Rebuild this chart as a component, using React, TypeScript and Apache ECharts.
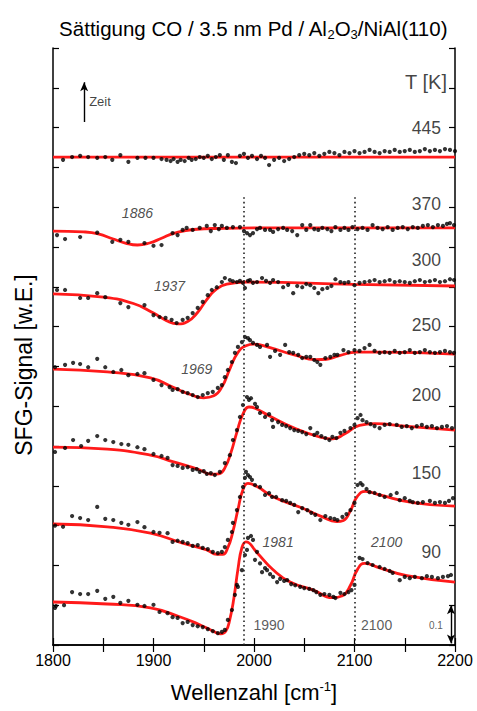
import React, { useEffect, useRef } from 'react';
import * as echarts from 'echarts';

type Pt = [number, number];

const FONT = '"Liberation Sans", Arial, Helvetica, sans-serif';

// temperature of each spectrum, top to bottom, and where its label sits
const temperatures = ['445', '370', '300', '250', '200', '150', '90'];
const tempLabelY = [1.299, 1.108, 0.967, 0.804, 0.628, 0.432, 0.234];
const tempLabelX = 2186;
const unitLabel = 'T [K]';
const unitLabelPos: Pt[] = [[2192, 1.415]];

// fitted line shapes (red)
const fit445: Pt[] = [[1800, 1.226], [2000, 1.226], [2200, 1.226]];
const fit370: Pt[] = [[1800, 1.040], [1830, 1.038], [1845, 1.033], [1860, 1.020], [1872, 1.010], [1884, 1.005], [1896, 1.010], [1908, 1.022], [1920, 1.034], [1940, 1.044], [1970, 1.047], [2000, 1.048], [2100, 1.048], [2200, 1.048]];
const fit300: Pt[] = [[1800, 0.882], [1850, 0.874], [1880, 0.858], [1900, 0.834], [1913, 0.815], [1924, 0.807], [1934, 0.813], [1944, 0.836], [1953, 0.868], [1962, 0.893], [1973, 0.907], [1993, 0.912], [2100, 0.906], [2200, 0.902]];
const fit250: Pt[] = [[1800, 0.693], [1854, 0.686], [1897, 0.671], [1919, 0.648], [1936, 0.630], [1950, 0.621], [1960, 0.626], [1968, 0.648], [1976, 0.694], [1984, 0.735], [1992, 0.752], [2000, 0.756], [2016, 0.747], [2040, 0.729], [2062, 0.717], [2072, 0.718], [2085, 0.727], [2102, 0.736], [2125, 0.736], [2200, 0.731]];
const fit200: Pt[] = [[1800, 0.497], [1854, 0.492], [1897, 0.477], [1920, 0.460], [1945, 0.441], [1958, 0.429], [1965, 0.430], [1971, 0.445], [1977, 0.483], [1983, 0.535], [1989, 0.580], [1995, 0.598], [2001, 0.595], [2015, 0.576], [2040, 0.545], [2066, 0.522], [2078, 0.518], [2090, 0.530], [2105, 0.552], [2120, 0.556], [2150, 0.550], [2200, 0.540]];
const fit150: Pt[] = [[1800, 0.304], [1854, 0.297], [1897, 0.281], [1929, 0.256], [1953, 0.239], [1963, 0.228], [1969, 0.228], [1974, 0.245], [1979, 0.285], [1984, 0.340], [1989, 0.390], [1994, 0.406], [2003, 0.398], [2020, 0.371], [2046, 0.346], [2068, 0.322], [2082, 0.310], [2089, 0.313], [2096, 0.338], [2103, 0.374], [2111, 0.386], [2125, 0.377], [2158, 0.358], [2200, 0.349]];
const fit90: Pt[] = [[1800, 0.108], [1854, 0.103], [1897, 0.093], [1926, 0.071], [1946, 0.051], [1960, 0.034], [1967, 0.028], [1972, 0.035], [1976, 0.065], [1980, 0.118], [1984, 0.190], [1988, 0.245], [1992, 0.259], [2003, 0.232], [2019, 0.189], [2036, 0.158], [2059, 0.138], [2078, 0.119], [2088, 0.124], [2096, 0.150], [2103, 0.190], [2110, 0.205], [2125, 0.194], [2152, 0.174], [2200, 0.158]];

// measured SFG points (black)
const dots445: Pt[] = [[1810, 1.219], [1819, 1.226], [1827, 1.229], [1835, 1.226], [1844, 1.224], [1852, 1.226], [1859, 1.219], [1867, 1.231], [1875, 1.214], [1884, 1.224], [1892, 1.224], [1900, 1.224], [1908, 1.221], [1913, 1.219], [1917, 1.216], [1920, 1.221], [1924, 1.214], [1927, 1.219], [1931, 1.216], [1935, 1.224], [1938, 1.219], [1942, 1.221], [1946, 1.226], [1950, 1.224], [1954, 1.229], [1958, 1.221], [1962, 1.226], [1966, 1.231], [1970, 1.219], [1974, 1.231], [1978, 1.214], [1982, 1.211], [1986, 1.229], [1990, 1.234], [1994, 1.224], [1998, 1.229], [2003, 1.221], [2007, 1.229], [2011, 1.224], [2015, 1.206], [2020, 1.219], [2025, 1.224], [2030, 1.216], [2035, 1.221], [2040, 1.226], [2045, 1.231], [2050, 1.234], [2055, 1.231], [2060, 1.236], [2065, 1.229], [2070, 1.234], [2075, 1.239], [2080, 1.236], [2085, 1.231], [2090, 1.239], [2095, 1.236], [2100, 1.241], [2105, 1.236], [2110, 1.239], [2115, 1.244], [2120, 1.239], [2125, 1.236], [2130, 1.241], [2135, 1.239], [2140, 1.244], [2145, 1.239], [2150, 1.241], [2155, 1.244], [2160, 1.239], [2165, 1.241], [2170, 1.246], [2175, 1.241], [2180, 1.244], [2185, 1.241], [2190, 1.246], [2195, 1.244], [2200, 1.241]];
const dots370: Pt[] = [[1804, 1.030], [1812, 1.020], [1827, 1.025], [1844, 1.036], [1859, 1.013], [1867, 1.018], [1875, 1.013], [1891, 1.010], [1900, 1.003], [1908, 1.005], [1919, 1.035], [1924, 1.030], [1929, 1.043], [1933, 1.048], [1939, 1.043], [1946, 1.048], [1953, 1.053], [1957, 1.040], [1961, 1.055], [1965, 1.045], [1968, 1.053], [1973, 1.048], [1979, 1.050], [1986, 1.050], [1990, 1.040], [1993, 1.035], [1996, 1.030], [1999, 1.035], [2003, 1.045], [2006, 1.048], [2011, 1.043], [2016, 1.043], [2019, 1.038], [2024, 1.045], [2029, 1.048], [2033, 1.043], [2038, 1.040], [2043, 1.030], [2048, 1.055], [2052, 1.043], [2056, 1.055], [2060, 1.045], [2064, 1.043], [2068, 1.048], [2073, 1.045], [2077, 1.040], [2081, 1.050], [2086, 1.043], [2090, 1.048], [2094, 1.043], [2098, 1.050], [2103, 1.045], [2108, 1.048], [2113, 1.043], [2118, 1.055], [2123, 1.048], [2128, 1.045], [2133, 1.050], [2138, 1.043], [2143, 1.048], [2148, 1.050], [2153, 1.045], [2158, 1.050], [2163, 1.048], [2168, 1.053], [2173, 1.055], [2178, 1.050], [2183, 1.055], [2188, 1.053], [2192, 1.058], [2195, 1.060], [2199, 1.055]];
const dots300: Pt[] = [[1804, 0.892], [1812, 0.892], [1827, 0.872], [1835, 0.872], [1844, 0.884], [1852, 0.874], [1867, 0.859], [1875, 0.849], [1891, 0.854], [1900, 0.829], [1906, 0.824], [1912, 0.822], [1918, 0.817], [1923, 0.809], [1929, 0.817], [1934, 0.822], [1939, 0.834], [1944, 0.847], [1949, 0.862], [1954, 0.879], [1958, 0.892], [1963, 0.899], [1968, 0.912], [1971, 0.922], [1976, 0.917], [1979, 0.914], [1983, 0.912], [1986, 0.915], [1989, 0.910], [1991, 0.897], [1994, 0.915], [1996, 0.917], [1999, 0.910], [2003, 0.912], [2008, 0.922], [2012, 0.915], [2016, 0.910], [2019, 0.917], [2024, 0.912], [2029, 0.899], [2034, 0.905], [2039, 0.884], [2043, 0.902], [2048, 0.899], [2052, 0.907], [2056, 0.904], [2060, 0.897], [2064, 0.884], [2068, 0.894], [2073, 0.897], [2077, 0.902], [2081, 0.919], [2086, 0.912], [2090, 0.910], [2094, 0.912], [2100, 0.904], [2105, 0.910], [2110, 0.912], [2115, 0.914], [2120, 0.917], [2125, 0.912], [2130, 0.914], [2135, 0.917], [2140, 0.912], [2145, 0.914], [2150, 0.912], [2155, 0.910], [2160, 0.914], [2165, 0.917], [2170, 0.912], [2175, 0.914], [2180, 0.917], [2185, 0.912], [2190, 0.914], [2195, 0.919], [2199, 0.917]];
const dots250: Pt[] = [[1802, 0.698], [1812, 0.704], [1820, 0.709], [1827, 0.706], [1835, 0.698], [1844, 0.719], [1852, 0.698], [1860, 0.686], [1868, 0.691], [1875, 0.678], [1884, 0.681], [1891, 0.683], [1900, 0.666], [1908, 0.653], [1916, 0.648], [1919, 0.641], [1924, 0.643], [1929, 0.636], [1934, 0.633], [1939, 0.628], [1944, 0.623], [1949, 0.628], [1954, 0.633], [1959, 0.636], [1964, 0.646], [1968, 0.653], [1971, 0.673], [1974, 0.691], [1978, 0.711], [1981, 0.734], [1984, 0.749], [1988, 0.761], [1991, 0.774], [1994, 0.771], [1996, 0.766], [1999, 0.759], [2003, 0.754], [2006, 0.749], [2013, 0.754], [2016, 0.724], [2021, 0.739], [2026, 0.729], [2031, 0.754], [2035, 0.736], [2039, 0.734], [2044, 0.729], [2048, 0.721], [2052, 0.724], [2056, 0.724], [2060, 0.716], [2063, 0.711], [2066, 0.704], [2071, 0.721], [2076, 0.724], [2080, 0.729], [2083, 0.729], [2089, 0.741], [2094, 0.736], [2100, 0.741], [2105, 0.739], [2110, 0.746], [2115, 0.754], [2120, 0.739], [2125, 0.734], [2130, 0.736], [2135, 0.734], [2140, 0.739], [2145, 0.734], [2150, 0.736], [2155, 0.741], [2160, 0.734], [2165, 0.736], [2170, 0.741], [2175, 0.736], [2180, 0.734], [2185, 0.736], [2190, 0.739], [2195, 0.736], [2199, 0.734]];
const dots200: Pt[] = [[1802, 0.485], [1812, 0.495], [1820, 0.515], [1828, 0.500], [1835, 0.513], [1844, 0.525], [1852, 0.515], [1860, 0.510], [1868, 0.505], [1875, 0.503], [1884, 0.497], [1891, 0.492], [1900, 0.480], [1908, 0.475], [1914, 0.470], [1919, 0.452], [1924, 0.450], [1929, 0.445], [1934, 0.447], [1939, 0.440], [1943, 0.442], [1946, 0.435], [1950, 0.437], [1953, 0.430], [1957, 0.432], [1961, 0.427], [1966, 0.435], [1971, 0.457], [1976, 0.477], [1979, 0.515], [1983, 0.540], [1986, 0.573], [1989, 0.603], [1993, 0.623], [1995, 0.616], [1997, 0.620], [2001, 0.606], [2003, 0.598], [2006, 0.583], [2011, 0.573], [2015, 0.580], [2018, 0.565], [2019, 0.548], [2024, 0.560], [2028, 0.553], [2032, 0.550], [2036, 0.545], [2040, 0.540], [2044, 0.538], [2048, 0.535], [2052, 0.530], [2056, 0.545], [2060, 0.528], [2063, 0.533], [2067, 0.525], [2071, 0.520], [2075, 0.515], [2078, 0.523], [2082, 0.520], [2086, 0.533], [2090, 0.538], [2096, 0.545], [2100, 0.553], [2103, 0.570], [2106, 0.578], [2108, 0.565], [2112, 0.560], [2116, 0.555], [2120, 0.550], [2125, 0.545], [2130, 0.553], [2135, 0.555], [2142, 0.553], [2147, 0.548], [2152, 0.550], [2157, 0.545], [2162, 0.550], [2167, 0.553], [2172, 0.548], [2177, 0.550], [2182, 0.545], [2187, 0.548], [2192, 0.550], [2197, 0.545]];
const dots150: Pt[] = [[1802, 0.300], [1810, 0.297], [1819, 0.324], [1827, 0.319], [1835, 0.314], [1844, 0.347], [1852, 0.317], [1860, 0.314], [1868, 0.307], [1875, 0.302], [1884, 0.309], [1891, 0.296], [1900, 0.284], [1906, 0.282], [1914, 0.281], [1919, 0.259], [1924, 0.262], [1929, 0.259], [1934, 0.256], [1939, 0.249], [1944, 0.251], [1949, 0.244], [1954, 0.241], [1959, 0.234], [1964, 0.231], [1968, 0.234], [1971, 0.246], [1974, 0.264], [1978, 0.284], [1979, 0.307], [1983, 0.339], [1986, 0.372], [1989, 0.397], [1991, 0.420], [1992, 0.435], [1994, 0.427], [1996, 0.422], [1998, 0.415], [2001, 0.402], [2006, 0.397], [2011, 0.377], [2015, 0.382], [2018, 0.372], [2022, 0.372], [2028, 0.364], [2032, 0.362], [2036, 0.357], [2040, 0.352], [2044, 0.334], [2048, 0.344], [2053, 0.339], [2057, 0.332], [2061, 0.327], [2066, 0.314], [2071, 0.324], [2076, 0.319], [2080, 0.317], [2083, 0.314], [2088, 0.322], [2092, 0.329], [2096, 0.339], [2100, 0.357], [2103, 0.402], [2106, 0.407], [2108, 0.402], [2112, 0.392], [2115, 0.384], [2120, 0.382], [2125, 0.377], [2130, 0.372], [2136, 0.377], [2142, 0.382], [2145, 0.364], [2150, 0.369], [2155, 0.362], [2158, 0.359], [2163, 0.357], [2168, 0.359], [2175, 0.362], [2180, 0.357], [2185, 0.359], [2190, 0.357], [2194, 0.362], [2198, 0.369]];
const dots90: Pt[] = [[1802, 0.093], [1803, 0.098], [1811, 0.100], [1819, 0.133], [1827, 0.128], [1835, 0.128], [1844, 0.136], [1852, 0.116], [1860, 0.121], [1867, 0.106], [1875, 0.111], [1884, 0.101], [1891, 0.098], [1900, 0.101], [1906, 0.083], [1914, 0.080], [1919, 0.070], [1924, 0.068], [1929, 0.055], [1934, 0.058], [1939, 0.050], [1944, 0.047], [1949, 0.045], [1954, 0.040], [1959, 0.035], [1964, 0.030], [1968, 0.033], [1971, 0.038], [1974, 0.063], [1978, 0.088], [1981, 0.126], [1983, 0.151], [1984, 0.146], [1988, 0.188], [1991, 0.226], [1993, 0.239], [1994, 0.269], [1997, 0.274], [1999, 0.264], [2001, 0.214], [2003, 0.234], [2006, 0.205], [2008, 0.183], [2011, 0.193], [2013, 0.188], [2016, 0.178], [2019, 0.171], [2023, 0.158], [2026, 0.166], [2030, 0.161], [2033, 0.163], [2037, 0.153], [2041, 0.150], [2046, 0.146], [2050, 0.143], [2055, 0.141], [2059, 0.138], [2062, 0.133], [2066, 0.126], [2070, 0.128], [2075, 0.126], [2079, 0.121], [2081, 0.118], [2086, 0.131], [2090, 0.128], [2094, 0.133], [2097, 0.138], [2100, 0.151], [2105, 0.219], [2108, 0.216], [2113, 0.206], [2118, 0.201], [2125, 0.196], [2130, 0.191], [2135, 0.186], [2138, 0.181], [2145, 0.163], [2150, 0.171], [2155, 0.168], [2160, 0.171], [2167, 0.168], [2172, 0.173], [2177, 0.171], [2183, 0.168], [2188, 0.171], [2193, 0.173], [2196, 0.176]];

const fits: Pt[][] = [fit445, fit370, fit300, fit250, fit200, fit150, fit90];
const dots: Pt[][] = [dots445, dots370, dots300, dots250, dots200, dots150, dots90];

// fitted resonance positions written next to the curves
const peakNames = ['1886', '1937', '1969', '1981', '2100'];
const peakLabelPos: Pt[] = [[1884, 1.085], [1916, 0.902], [1943, 0.693], [2024, 0.259], [2132, 0.259]];

// vertical reference lines
const refLines = [1990, 2100];
const refLineTop = 1.126;
const refNames = ['1990', '2100'];
const refLabelPos: Pt[] = [[2015, 0.05], [2122, 0.05]];

// intensity scale bar and time arrow
const scaleBar: Pt[] = [[2196, 0.004], [2196, 0.1]];
const scaleName = '0.1';
const scaleLabelPos: Pt[] = [[2181, 0.05]];
const timeArrow: Pt[] = [[1831, 1.314], [1831, 1.414]];
const timeName = 'Zeit';
const timeLabelPos: Pt[] = [[1836, 1.365]];

const xTicks = { min: 1800, max: 2200, step: 50 };
const yTicks = { min: 0, max: 1.5, step: 0.1 };

function labelSeries(name: string, pts: Pt[], texts: string[], style: any, position: any = 'inside') {
  return {
    name,
    type: 'scatter',
    symbolSize: 0,
    silent: true,
    z: 5,
    data: pts.map((p, i) => ({ value: p, label: { formatter: texts[i] } })),
    label: { show: true, position, distance: 0, fontFamily: FONT, ...style },
  };
}

export default function App() {
  const ref = useRef<HTMLDivElement>(null);

  useEffect(() => {
    if (!ref.current) return;
    const chart = echarts.init(ref.current, null, { renderer: 'svg' });

    const axisLine = { show: true, lineStyle: { color: '#000', width: 1.5 } };
    const tick = { show: true, inside: true, length: 7, lineStyle: { color: '#000', width: 1.2 } };

    const series: any[] = [];
    fits.forEach((f, i) => {
      series.push({
        name: 'fit ' + temperatures[i],
        type: 'line',
        data: f,
        smooth: 0.5,
        showSymbol: false,
        symbol: 'none',
        lineStyle: { color: '#ff1a1a', width: 2.8 },
        z: 2,
        silent: true,
      });
      series.push({
        name: 'data ' + temperatures[i],
        type: 'scatter',
        data: dots[i],
        symbolSize: 4.2,
        itemStyle: { color: '#000' },
        z: 3,
        silent: true,
      });
    });

    series.push({
      name: 'reference lines',
      type: 'line',
      data: [],
      markLine: {
        silent: true,
        symbol: ['none', 'none'],
        label: { show: false },
        lineStyle: { color: '#222', width: 1.6, type: [1.6, 3] },
        data: refLines.map((x) => [{ coord: [x, 0] }, { coord: [x, refLineTop] }]),
      },
    });

    series.push({
      name: 'arrows',
      type: 'line',
      data: [],
      markLine: {
        silent: true,
        label: { show: false },
        symbolSize: [6, 9],
        lineStyle: { color: '#000', width: 1.4, type: 'solid' },
        data: [
          [{ coord: timeArrow[0], symbol: 'none' }, { coord: timeArrow[1], symbol: 'arrow' }],
          [{ coord: scaleBar[0], symbol: 'arrow' }, { coord: scaleBar[1], symbol: 'arrow' }],
        ],
      },
    });

    series.push(labelSeries('temperatures', tempLabelY.map((y) => [tempLabelX, y] as Pt), temperatures, { fontSize: 17.5, color: '#111', align: 'right' }, 'left'));
    series.push(labelSeries('unit', unitLabelPos, [unitLabel], { fontSize: 20, color: '#111', align: 'right' }, 'left'));
    series.push(labelSeries('peaks', peakLabelPos, peakNames, { fontSize: 14, fontStyle: 'italic', color: '#222' }));
    series.push(labelSeries('refs', refLabelPos, refNames, { fontSize: 14, color: '#333' }));
    series.push(labelSeries('scale', scaleLabelPos, [scaleName], { fontSize: 10, color: '#333' }));
    series.push(labelSeries('time', timeLabelPos, [timeName], { fontSize: 13, color: '#111', align: 'left' }, 'right'));

    chart.setOption({
      animation: false,
      backgroundColor: '#fff',
      grid: { left: 53, right: 22, top: 48, bottom: 66, outerBoundsMode: 'none' },
      xAxis: [
        {
          type: 'value', position: 'bottom', min: xTicks.min, max: xTicks.max, interval: xTicks.step,
          axisLine, axisTick: tick, splitLine: { show: false },
          axisLabel: {
            fontFamily: FONT, fontSize: 16, color: '#000', margin: 7,
            formatter: (v: number) => (v % 100 === 0 ? String(v) : ''),
          },
        },
        {
          type: 'value', position: 'top', min: xTicks.min, max: xTicks.max, interval: xTicks.step,
          axisLine, axisTick: tick, splitLine: { show: false }, axisLabel: { show: false },
        },
      ],
      yAxis: [
        {
          type: 'value', position: 'left', min: yTicks.min, max: yTicks.max, interval: yTicks.step,
          axisLine, axisTick: { ...tick, length: 6 }, splitLine: { show: false }, axisLabel: { show: false },
        },
        {
          type: 'value', position: 'right', min: yTicks.min, max: yTicks.max, interval: yTicks.step,
          axisLine, axisTick: { ...tick, length: 6 }, splitLine: { show: false }, axisLabel: { show: false },
        },
      ],
      graphic: [
        {
          type: 'text', x: 253, y: 28, silent: true,
          style: {
            text: '{a|Sättigung CO / 3.5 nm Pd / Al}{s|2}{a|O}{s|3}{a|/NiAl(110)}',
            align: 'center', verticalAlign: 'middle', fill: '#000',
            rich: {
              a: { fontFamily: FONT, fontSize: 20.5, lineHeight: 24, fill: '#000' } as any,
              s: { fontFamily: FONT, fontSize: 13, lineHeight: 24, padding: [12, 0, 0, 0], fill: '#000' } as any,
            },
          },
        },
        {
          type: 'text', x: 254, y: 692, silent: true,
          style: {
            text: '{a|Wellenzahl [cm}{p|-1}{a|]}',
            align: 'center', verticalAlign: 'middle', fill: '#000',
            rich: {
              a: { fontFamily: FONT, fontSize: 22, lineHeight: 26, fill: '#000' } as any,
              p: { fontFamily: FONT, fontSize: 13, lineHeight: 26, padding: [0, 0, 12, 0], fill: '#000' } as any,
            },
          },
        },
        {
          type: 'text', x: 24, y: 365, rotation: Math.PI / 2, silent: true,
          style: {
            text: 'SFG-Signal [w.E.]', fontFamily: FONT, fontSize: 23,
            align: 'center', verticalAlign: 'middle', fill: '#000',
          },
        },
      ],
      series,
    });

    return () => chart.dispose();
  }, []);

  return (
    <div
      ref={ref}
      style={{ position: 'fixed', left: 0, top: 0, width: 477, height: 711, background: '#fff' }}
    />
  );
}
